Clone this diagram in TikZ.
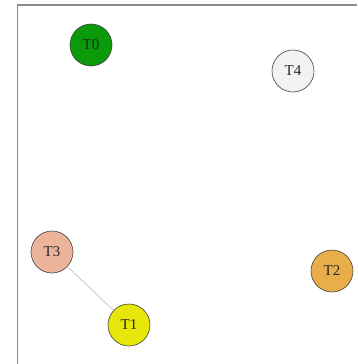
\documentclass[tikz,border=0pt]{standalone}
\usepackage{fontspec}
\setmainfont{Liberation Serif}
\definecolor{cT0}{HTML}{0A9A0A}
\definecolor{cT1}{HTML}{E6E60A}
\definecolor{cT2}{HTML}{E8AE4A}
\definecolor{cT3}{HTML}{EBB49B}
\definecolor{cT4}{HTML}{F2F2F2}
\definecolor{framegray}{HTML}{8C8C8C}
\definecolor{edgegray}{HTML}{C8C8C8}
\tikzset{
  vtx/.style={circle, draw=black!75, line width=0.6pt, minimum size=42pt, inner sep=0pt, font=\fontsize{15}{15}\selectfont, text=black!85},
  lnk/.style={draw=edgegray, line width=0.8pt},
  frm/.style={draw=framegray, line width=1.5pt}
}
\begin{document}
\begin{tikzpicture}[x=1pt,y=-1pt]
\useasboundingbox (0,0) rectangle (357,364);
\coordinate (fa) at (17.5,364);
\coordinate (fb) at (17.5,5);
\coordinate (fc) at (357,5);
\draw[frm] (fa) -- (fb) -- (fc);
\node[vtx, fill=cT0] (T0) at (91,45) {T0};
\node[vtx, fill=cT4] (T4) at (293,71) {T4};
\node[vtx, fill=cT3] (T3) at (52,252) {T3};
\node[vtx, fill=cT2] (T2) at (332,271) {T2};
\node[vtx, fill=cT1] (T1) at (129,325) {T1};
\draw[lnk] (T3) -- (T1);
\end{tikzpicture}
\end{document}
